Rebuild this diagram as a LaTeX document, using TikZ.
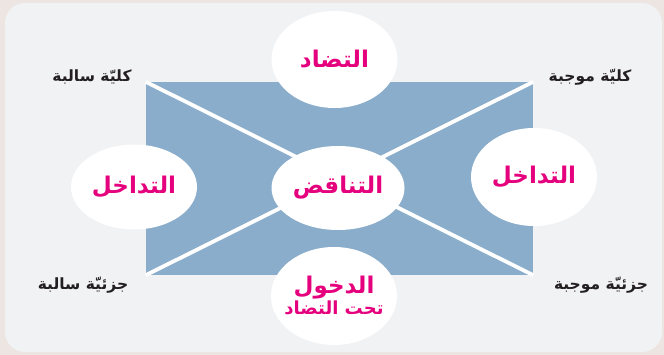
\documentclass[tikz,border=0pt]{standalone}
\usepackage{fontspec}
\newfontfamily\arabicfont[Script=Arabic]{DejaVu Sans}
\TeXXeTstate=1
\usetikzlibrary{shapes.geometric}

\definecolor{outerbg}{HTML}{ECE5E1}
\definecolor{panelgray}{HTML}{F1F2F4}
\definecolor{squareblue}{HTML}{8AADCB}
\definecolor{relpink}{HTML}{E5007D}
\definecolor{labelblack}{HTML}{231F20}

\begin{document}
\begin{tikzpicture}[
  x=1pt, y=-1pt,
  square/.style={rectangle, fill=squareblue, draw=none, minimum width=387pt, minimum height=193pt, inner sep=0pt},
  diag/.style={draw=white, line width=3.8pt},
  relation/.style={ellipse, fill=white, draw=none, minimum width=126pt, inner sep=0pt, align=center,
                   text=relpink, font=\arabicfont\bfseries\fontsize{23}{26}\selectfont},
  corner/.style={text=labelblack, inner sep=0pt, font=\arabicfont\bfseries\fontsize{15.5}{18}\selectfont}
]
\useasboundingbox (0,0) rectangle (664,355);
\fill[outerbg] (0,0) rectangle (664,355);
\fill[panelgray, rounded corners=20pt] (5,3) rectangle (662,352);

\node[square] (sq) at (339.5,178.5) {};
\draw[diag] (sq.north west) -- (sq.south east);
\draw[diag] (sq.north east) -- (sq.south west);

\node[relation, minimum height=97pt] (tadad) at (334.5,59.5) {\beginR التضاد\endR};
\node[relation, minimum width=133pt, minimum height=84pt] (tanaqud) at (338,188) {\beginR التناقض\endR};
\node[relation, minimum height=85pt] (tadakhulL) at (134,187) {\beginR التداخل\endR};
\node[relation, minimum height=98pt] (tadakhulR) at (534,177) {\beginR التداخل\endR};
\node[relation, minimum height=98pt, inner xsep=-15pt] (dukhul) at (334,296)
  {\beginR الدخول\endR\\[-5pt]{\fontsize{18}{21}\selectfont\beginR تحت التضاد\endR}};

\node[corner] (kullSalba) at (92,77) {\beginR كليّة سالبة\endR};
\node[corner] (kullMujaba) at (590,77) {\beginR كليّة موجبة\endR};
\node[corner] (juzSalba) at (83,285) {\beginR جزئيّة سالبة\endR};
\node[corner] (juzMujaba) at (601,285) {\beginR جزئيّة موجبة\endR};
\end{tikzpicture}
\end{document}
